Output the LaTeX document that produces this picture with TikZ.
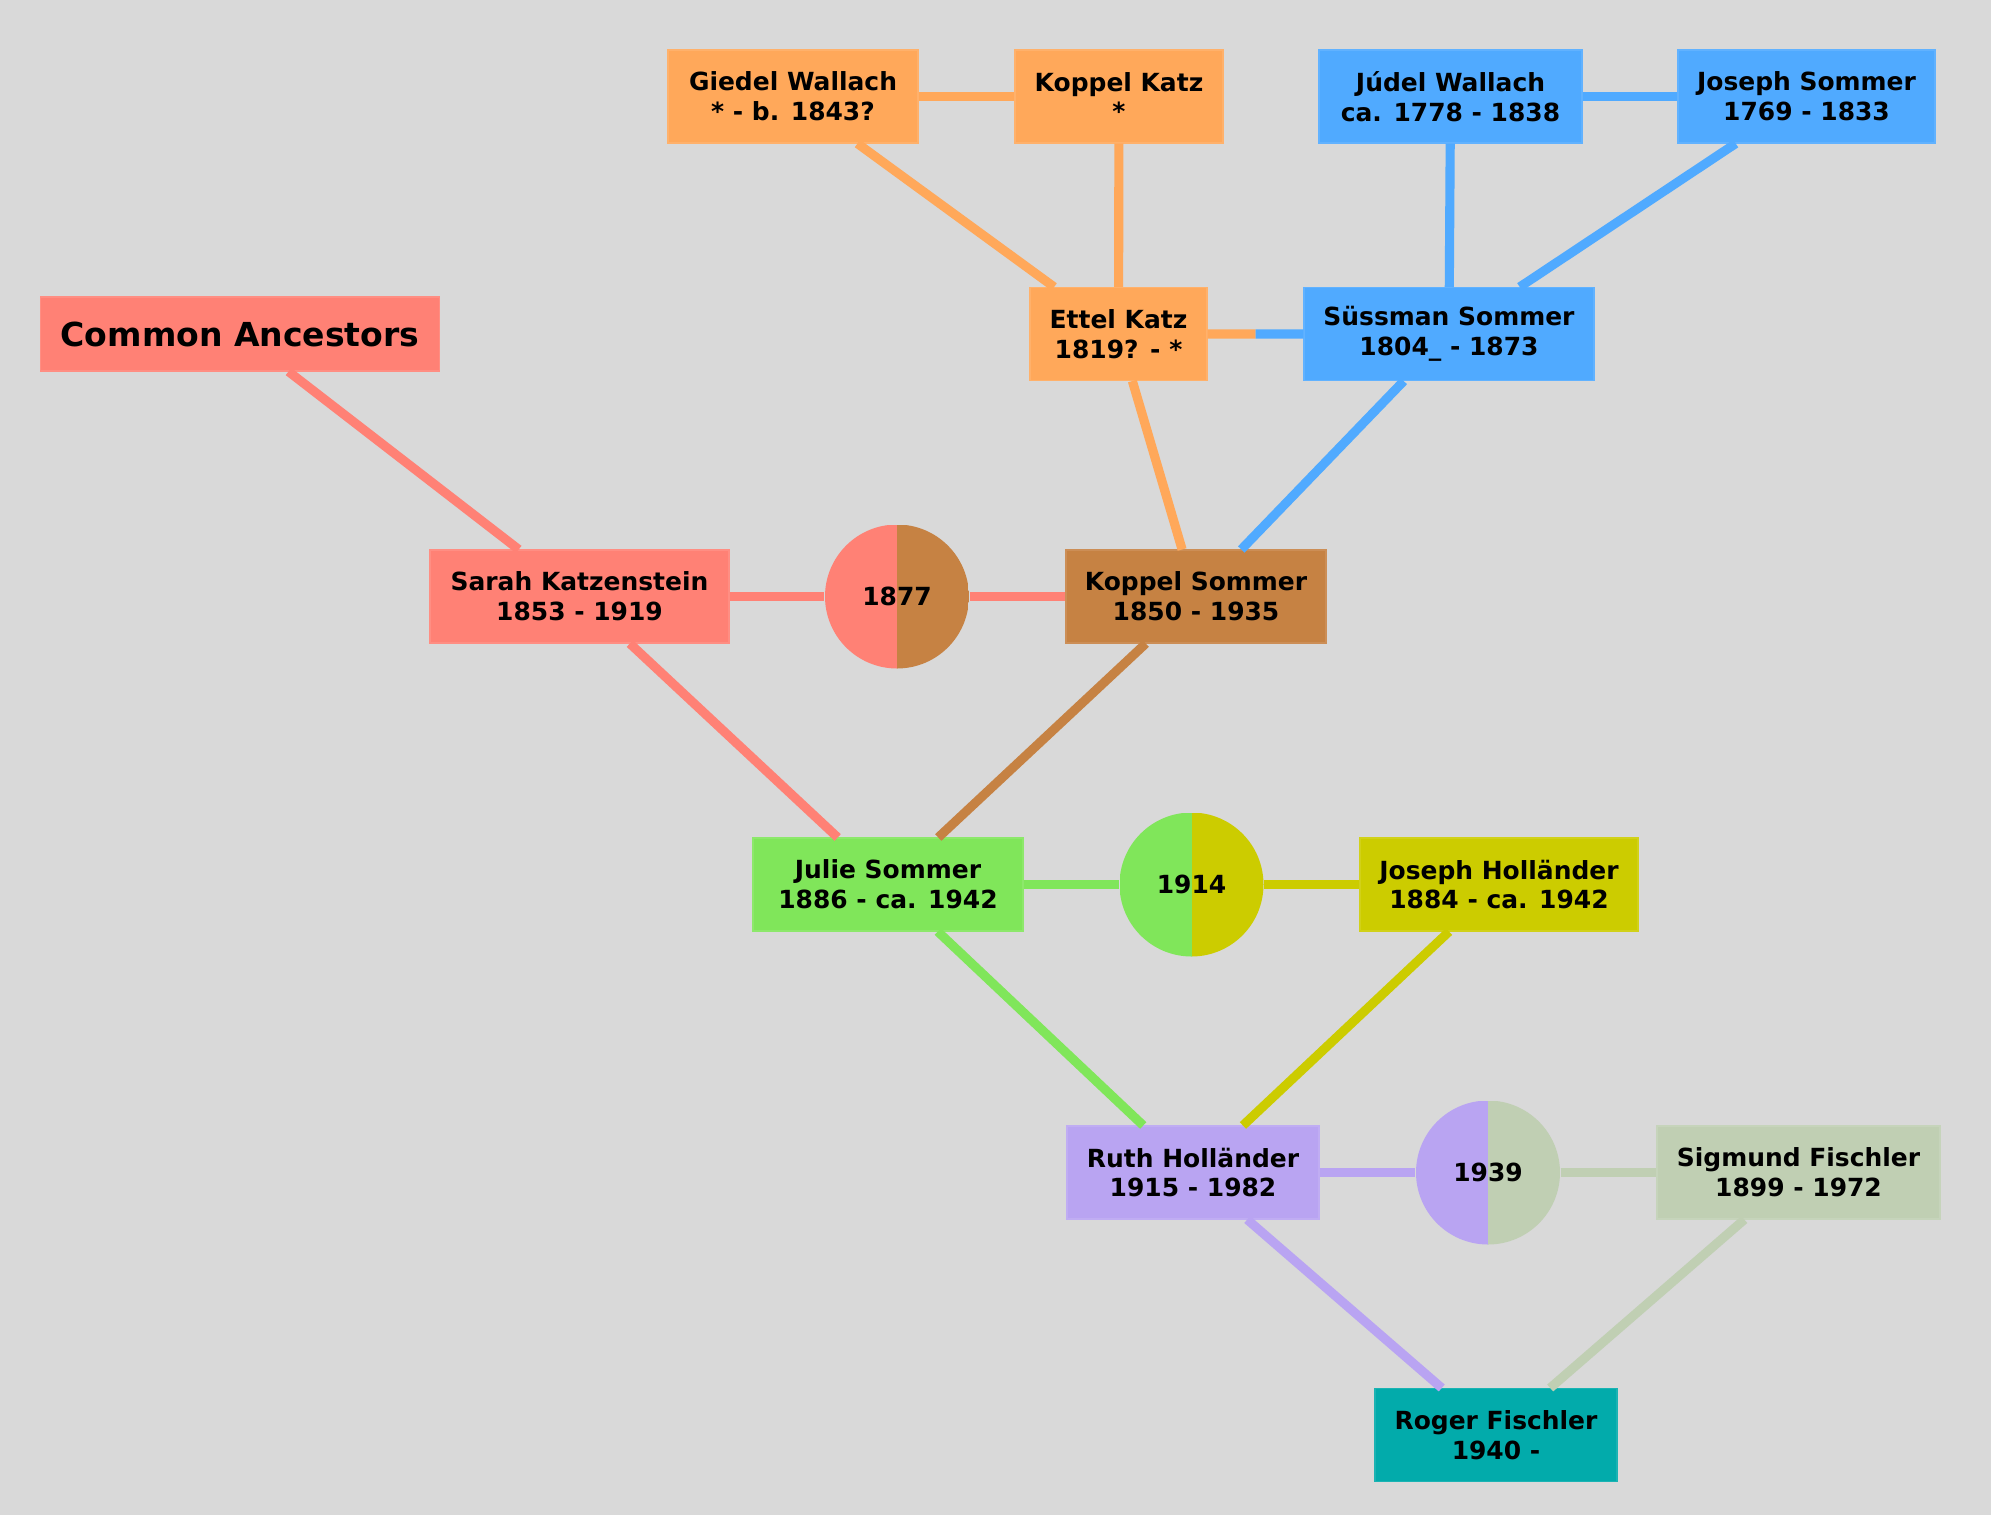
\documentclass[tikz,border=0pt]{standalone}
\usepackage{fontspec}
\setmainfont{DejaVu Sans}
\usepackage{tikz}
\usetikzlibrary{calc}

\definecolor{bg}{HTML}{D9D9D9}
\definecolor{salmon}{HTML}{FF8175}
\definecolor{apricot}{HTML}{FFA85A}
\definecolor{sky}{HTML}{50AAFF}
\definecolor{copper}{HTML}{C68243}
\definecolor{lime}{HTML}{80E65A}
\definecolor{mustard}{HTML}{CCCC00}
\definecolor{lilac}{HTML}{B9A4F2}
\definecolor{sage}{HTML}{C0CFB3}
\definecolor{tealbox}{HTML}{02ABAB}

\begin{document}
\begin{tikzpicture}[
  person/.style={rectangle,fill=#1,draw=#1!90!white,line width=0.3pt,minimum height=0.93cm,inner sep=0pt,align=center,font=\bfseries\fontsize{7.1}{8.5}\selectfont},
  wedding/.style 2 args={circle,minimum size=1.44cm,inner sep=0pt,font=\bfseries\fontsize{7.1}{8.5}\selectfont,
    path picture={\fill[#1] (path picture bounding box.south west) rectangle (path picture bounding box.north);
                  \fill[#2] (path picture bounding box.south) rectangle (path picture bounding box.north east);}},
  link/.style={draw=#1,line width=2.6pt}]
\fill[bg] (0,0) rectangle (19.91,-15.15);
\useasboundingbox (0,0) rectangle (19.91,-15.15);

\node[person=salmon,minimum width=3.99cm,minimum height=0.74cm,font=\bfseries\fontsize{9.4}{11}\selectfont] (anc) at (2.40,-3.34) {Common Ancestors};

\node[person=apricot,minimum width=2.50cm] (giedel) at (7.93,-0.965) {Giedel Wallach\\ * - b. 1843?};
\node[person=apricot,minimum width=2.08cm] (kkatz) at (11.19,-0.965) {Koppel Katz\\ *};
\node[person=sky,minimum width=2.63cm] (judel) at (14.505,-0.965) {Júdel Wallach\\ ca. 1778 - 1838};
\node[person=sky,minimum width=2.57cm] (jsommer) at (18.065,-0.965) {Joseph Sommer\\ 1769 - 1833};

\node[person=apricot,minimum width=1.77cm] (ettel) at (11.185,-3.34) {Ettel Katz\\ 1819? - *};
\node[person=sky,minimum width=2.90cm] (suessman) at (14.49,-3.34) {Süssman Sommer\\ 1804\_ - 1873};

\node[person=salmon,minimum width=2.99cm] (sarah) at (5.795,-5.965) {Sarah Katzenstein\\ 1853 - 1919};
\node[wedding={salmon}{copper}] (m1877) at (8.97,-5.965) {1877};
\node[person=copper,minimum width=2.60cm] (ksommer) at (11.96,-5.965) {Koppel Sommer\\ 1850 - 1935};

\node[person=lime,minimum width=2.70cm] (julie) at (8.88,-8.845) {Julie Sommer\\ 1886 - ca. 1942};
\node[wedding={lime}{mustard}] (m1914) at (11.915,-8.845) {1914};
\node[person=mustard,minimum width=2.78cm] (jhollaender) at (14.99,-8.845) {Joseph Holländer\\ 1884 - ca. 1942};

\node[person=lilac,minimum width=2.52cm] (ruth) at (11.93,-11.725) {Ruth Holländer\\ 1915 - 1982};
\node[wedding={lilac}{sage}] (m1939) at (14.88,-11.725) {1939};
\node[person=sage,minimum width=2.83cm] (sigmund) at (17.985,-11.725) {Sigmund Fischler\\ 1899 - 1972};

\node[person=tealbox,minimum width=2.42cm] (roger) at (14.96,-14.35) {Roger Fischler\\ 1940 -};

\coordinate (es) at ($(ettel.east)!0.5!(suessman.west)$);

\draw[link=apricot] (giedel) -- (kkatz);
\draw[link=apricot] (giedel) -- (ettel);
\draw[link=apricot] (kkatz) -- (ettel);
\draw[link=sky] (judel) -- (jsommer);
\draw[link=sky] (judel) -- (suessman);
\draw[link=sky] (jsommer) -- (suessman);
\draw[link=apricot] (ettel) -- (es);
\draw[link=sky] (es) -- (suessman);
\draw[link=apricot] (ettel) -- (ksommer);
\draw[link=sky] (suessman) -- (ksommer);
\draw[link=salmon] (anc) -- (sarah);
\draw[link=salmon] (sarah) -- (m1877);
\draw[link=salmon] (m1877) -- (ksommer);
\draw[link=salmon] (sarah) -- (julie);
\draw[link=copper] (ksommer) -- (julie);
\draw[link=lime] (julie) -- (m1914);
\draw[link=mustard] (m1914) -- (jhollaender);
\draw[link=lime] (julie) -- (ruth);
\draw[link=mustard] (jhollaender) -- (ruth);
\draw[link=lilac] (ruth) -- (m1939);
\draw[link=sage] (m1939) -- (sigmund);
\draw[link=lilac] (ruth) -- (roger);
\draw[link=sage] (sigmund) -- (roger);

\end{tikzpicture}
\end{document}
